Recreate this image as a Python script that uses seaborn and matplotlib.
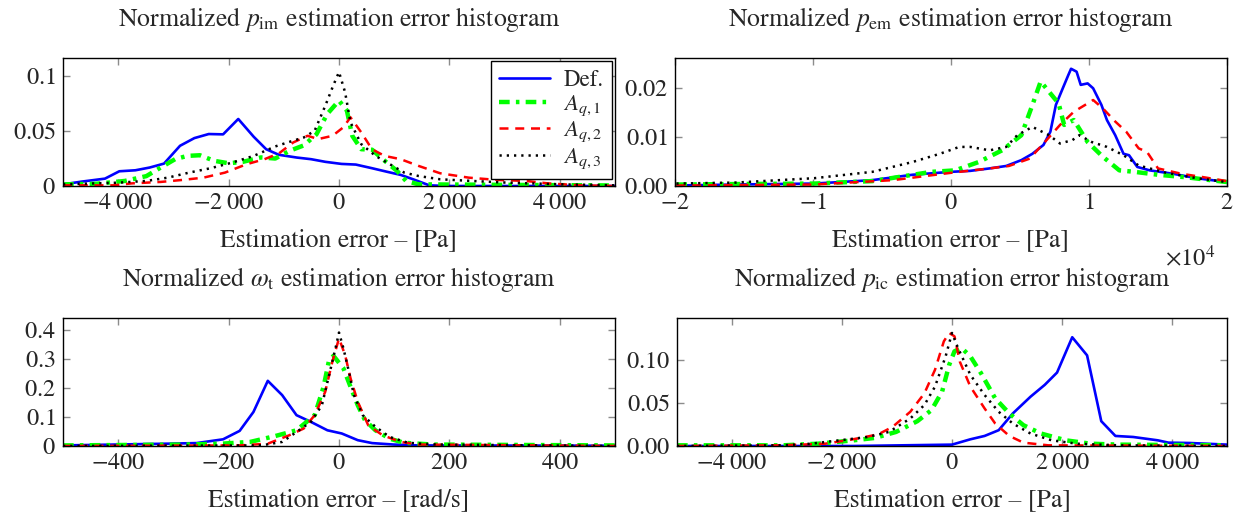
import matplotlib
matplotlib.use("Agg")
import matplotlib.pyplot as plt
import matplotlib.ticker as mticker
import seaborn as sns

# ---------------------------------------------------------
# Data (x in Pa or rad/s, y normalized counts)
# ---------------------------------------------------------
# p_im
im_def_x = [-5000, -4660, -4240, -3980, -3690, -3430, -3170, -2880, -2620, -2360, -2100, -1825,
            -1545, -1320, -1090, -766, -506, -247, 45, 305, 597, 857, 1117, 1344, 1636, 1960, 5000]
im_def_y = [0.0015, 0.004, 0.0067, 0.0134, 0.0143, 0.0168, 0.0204, 0.0366, 0.0436, 0.0473, 0.047, 0.061,
            0.0448, 0.0335, 0.0284, 0.0259, 0.0244, 0.022, 0.0201, 0.0195, 0.0162, 0.0131, 0.0101, 0.0061,
            0.0006, 0.0, 0.0]
im_a1_x = [-5000, -4400, -3880, -3490, -3230, -2970, -2750, -2520, -2260, -2000, -1740, -1415, -1155,
           -896, -636, -409, -214, 0, 143, 240, 403, 600, 792, 1052, 1214, 1441, 5000]
im_a1_y = [0.0015, 0.002, 0.0046, 0.009, 0.0168, 0.0244, 0.0274, 0.028, 0.0229, 0.0207, 0.022, 0.026, 0.025,
           0.032, 0.037, 0.047, 0.0655, 0.0777, 0.0686, 0.0457, 0.0335, 0.033, 0.0244, 0.0137, 0.0046,
           0.0015, 0.0005]
im_a2_x = [-5000, -4080, -3750, -3230, -2840, -2455, -2065, -1675, -1350, -1090, -830, -570, -377, -117,
           78, 208, 403, 597, 825, 1117, 1441, 1831, 2350, 2870, 3390, 3779, 4364, 5000]
im_a2_y = [0.0006, 0.0006, 0.0024, 0.0037, 0.0055, 0.0076, 0.0122, 0.0198, 0.0244, 0.0296, 0.0396, 0.0457,
           0.0427, 0.0457, 0.0534, 0.0625, 0.0488, 0.0335, 0.0274, 0.0244, 0.0183, 0.0116, 0.0076, 0.0055,
           0.0046, 0.0024, 0.0006, 0.0]
im_a3_x = [-5000, -4010, -3490, -3100, -2715, -2325, -1935, -1545, -1155, -896, -636, -441, -247, -104, 0,
           110, 208, 403, 662, 922, 1182, 1441, 1831, 2415, 3065, 4040, 5000]
im_a3_y = [0.0015, 0.003, 0.0046, 0.0076, 0.0122, 0.0162, 0.0213, 0.0274, 0.036, 0.0402, 0.0442, 0.0503,
           0.0732, 0.0915, 0.1037, 0.0854, 0.0579, 0.0381, 0.0274, 0.0198, 0.0122, 0.0091, 0.0061, 0.0046,
           0.003, 0.0015, 0.0006]

# p_em (x in Pa, axis shown in units of 1e4)
em_def_x = [-19900, -15600, -9900, -5700, -2800, 0, 1400, 2800, 4000, 5100, 5900, 6700, 7200, 7600, 8100,
            8500, 8700, 9100, 9400, 9900, 10300, 10900, 11300, 11900, 12500, 12900, 13500, 14400, 16100,
            17800, 20000]
em_def_y = [0.0001, 0.0003, 0.0005, 0.0012, 0.0023, 0.0029, 0.0031, 0.0036, 0.0041, 0.0053, 0.0066, 0.0084,
            0.0111, 0.0166, 0.020, 0.0227, 0.024, 0.0234, 0.0207, 0.021, 0.020, 0.0166, 0.0135, 0.0104,
            0.0066, 0.0063, 0.0039, 0.0032, 0.0025, 0.0016, 0.0008]
em_a1_x = [-19900, -15600, -9900, -5700, -1400, 300, 2000, 3700, 5100, 5900, 6500, 7100, 7800, 8200, 8900,
           9900, 11000, 12200, 13300, 15000, 17000, 20000]
em_a1_y = [0.0003, 0.0004, 0.0005, 0.001, 0.0029, 0.0032, 0.0049, 0.0073, 0.0104, 0.0166, 0.0214, 0.0193,
           0.0169, 0.0125, 0.0135, 0.009, 0.006, 0.0032, 0.0029, 0.0023, 0.0018, 0.0008]
em_a2_x = [-19900, -9900, -4200, 0, 2800, 4200, 5700, 6800, 7900, 8900, 9900, 10300, 11000, 11900, 12700,
           13600, 14200, 15000, 16700, 18300, 20000]
em_a2_y = [0.0001, 0.0003, 0.0012, 0.0027, 0.0036, 0.0041, 0.0056, 0.009, 0.0125, 0.0152, 0.0169, 0.0176,
           0.0159, 0.0132, 0.0111, 0.0077, 0.007, 0.0036, 0.0025, 0.0018, 0.001]
em_a3_x = [-19900, -15600, -9900, -5700, -2800, -800, 600, 1400, 2800, 4000, 4800, 5900, 7100, 7900, 8800,
           9300, 10200, 11300, 12500, 13600, 15600, 17800, 20000]
em_a3_y = [0.0005, 0.0007, 0.0016, 0.0029, 0.0049, 0.0066, 0.008, 0.008, 0.0073, 0.008, 0.0104, 0.0121,
           0.0104, 0.0087, 0.0094, 0.0104, 0.009, 0.008, 0.0063, 0.0042, 0.0027, 0.0016, 0.0008]

# omega_t (rad/s)
wt_def_x = [-500, -310, -258, -210, -180, -155, -129, -103, -77, -51, -21, 5, 34, 60, 99, 144, 500]
wt_def_y = [0.002, 0.008, 0.01, 0.023, 0.052, 0.117, 0.224, 0.175, 0.106, 0.083, 0.054, 0.043, 0.02, 0.01,
            0.005, 0.002, 0.001]
wt_a1_x = [-500, -278, -213, -161, -116, -77, -44, -28, -18, -10, 8, 21, 34, 47, 66, 92, 118, 170, 500]
wt_a1_y = [0.002, 0.005, 0.008, 0.014, 0.034, 0.054, 0.106, 0.203, 0.295, 0.31, 0.267, 0.203, 0.14, 0.089,
           0.054, 0.025, 0.011, 0.005, 0.002]
wt_a2_x = [-500, -180, -129, -90, -64, -44, -25, -12, 0, 11, 21, 34, 53, 79, 112, 144, 500]
wt_a2_y = [0.0, 0.002, 0.008, 0.037, 0.06, 0.106, 0.186, 0.29, 0.37, 0.313, 0.232, 0.152, 0.071, 0.037,
           0.014, 0.005, 0.0]
wt_a3_x = [-500, -141, -103, -77, -51, -31, -15, -5, 0, 8, 18, 27, 43, 66, 92, 125, 177, 500]
wt_a3_y = [0.0, 0.002, 0.014, 0.048, 0.083, 0.14, 0.267, 0.347, 0.39, 0.336, 0.255, 0.175, 0.106, 0.066,
           0.031, 0.011, 0.005, 0.0]

# p_ic
ic_def_x = [-5000, -1790, 0, 334, 592, 849, 1106, 1428, 1685, 1910, 2186, 2456, 2585, 2714, 2971, 3293,
            3743, 3936, 4322, 5000]
ic_def_y = [0.0, 0.0, 0.0016, 0.0078, 0.0117, 0.0184, 0.0379, 0.0574, 0.0711, 0.0855, 0.1266, 0.1055,
            0.0672, 0.0289, 0.0117, 0.0105, 0.0066, 0.0039, 0.0035, 0.0016]
ic_a1_x = [-5000, -3074, -2431, -1788, -1402, -1016, -630, -373, -180, -51, 45, 174, 334, 527, 785, 1042,
           1299, 1620, 2071, 2521, 3035, 5000]
ic_a1_y = [0.0008, 0.0008, 0.0027, 0.0066, 0.0094, 0.0164, 0.0289, 0.0418, 0.0633, 0.0945, 0.1102, 0.1141,
           0.1043, 0.0848, 0.0555, 0.0379, 0.0242, 0.0145, 0.0066, 0.0027, 0.0016, 0.0008]
ic_a2_x = [-5000, -3074, -2302, -1916, -1659, -1338, -1080, -759, -502, -309, -148, -51, 45, 141, 334, 592,
           785, 1042, 1299, 1749, 5000]
ic_a2_y = [0.0, 0.0008, 0.0027, 0.0066, 0.0094, 0.0137, 0.0223, 0.0398, 0.0613, 0.0887, 0.1219, 0.1316,
           0.1277, 0.0984, 0.0691, 0.0438, 0.0262, 0.0117, 0.0039, 0.0008, 0.0]
ic_a3_x = [-5000, -3074, -2559, -2045, -1530, -1145, -759, -502, -309, -116, 0, 109, 334, 592, 849, 1106,
           1428, 1813, 2264, 3035, 5000]
ic_a3_y = [0.0, 0.0008, 0.0027, 0.0066, 0.0105, 0.0164, 0.032, 0.0477, 0.0691, 0.1043, 0.1316, 0.1141,
           0.0828, 0.0594, 0.0398, 0.0262, 0.0145, 0.0066, 0.0027, 0.0008, 0.0]

labels = ["Def.", r"$A_{q,1}$", r"$A_{q,2}$", r"$A_{q,3}$"]

# ---------------------------------------------------------
# Style
# ---------------------------------------------------------
sns.set_theme(style="white")
plt.rcParams["font.family"] = ["STIXGeneral", "DejaVu Serif"]
plt.rcParams["mathtext.fontset"] = "stix"
plt.rcParams["axes.edgecolor"] = "black"
plt.rcParams["axes.linewidth"] = 1.0

FS = 18.5
styles = [
    dict(color="#0000ff", lw=1.9, linestyle="-"),
    dict(color="#00ff00", lw=3.2, linestyle=(0, (2.4, 1.4, 0.8, 1.4))),
    dict(color="#ff0000", lw=1.8, linestyle=(0, (3.6, 2.7))),
    dict(color="black", lw=1.8, linestyle=(0, (0.9, 2.0))),
]


def thousands(v, pos):
    s = f"{abs(int(round(v))):,}".replace(",", r"\;")
    return f"${'-' if v < 0 else ''}{s}$"


def draw(ax, series, title, xlabel, xlim, ylim, xticks, yticks, xfmt, yfmt):
    for (x, y), st, lab in zip(series, styles, labels):
        sns.lineplot(x=x, y=y, ax=ax, estimator=None, sort=False, label=lab, **st)
    ax.set_xlim(*xlim)
    ax.set_ylim(*ylim)
    ax.set_xticks(xticks)
    ax.set_yticks(yticks)
    ax.xaxis.set_major_formatter(mticker.FuncFormatter(xfmt))
    ax.yaxis.set_major_formatter(mticker.FuncFormatter(yfmt))
    ax.tick_params(direction="in", length=5, width=1, color="#8c8c8c", labelsize=FS - 1,
                   top=True, right=True, bottom=True, left=True, pad=5)
    ax.set_title(title, fontsize=FS, pad=23)
    ax.set_xlabel(xlabel, fontsize=FS, labelpad=10)
    ax.set_ylabel("")
    for sp in ax.spines.values():
        sp.set_color("black")
        sp.set_visible(True)


fig = plt.figure(figsize=(12.39, 5.15), dpi=100)
W, H = 1239, 515
ax1 = fig.add_axes([63 / W, 1 - 186 / H, 552 / W, 128 / H])
ax2 = fig.add_axes([675 / W, 1 - 186 / H, 552 / W, 128 / H])
ax3 = fig.add_axes([63 / W, 1 - 446 / H, 552 / W, 128 / H])
ax4 = fig.add_axes([677 / W, 1 - 446 / H, 550 / W, 128 / H])

draw(ax1, [(im_def_x, im_def_y), (im_a1_x, im_a1_y), (im_a2_x, im_a2_y), (im_a3_x, im_a3_y)],
     r"Normalized $p_{\mathrm{im}}$ estimation error histogram", "Estimation error – [Pa]",
     (-5000, 5000), (0, 0.1165), [-4000, -2000, 0, 2000, 4000], [0, 0.05, 0.1],
     thousands, lambda v, p: f"${v:g}$")

draw(ax2, [(em_def_x, em_def_y), (em_a1_x, em_a1_y), (em_a2_x, em_a2_y), (em_a3_x, em_a3_y)],
     r"Normalized $p_{\mathrm{em}}$ estimation error histogram", "Estimation error – [Pa]",
     (-20000, 20000), (0, 0.0262), [-20000, -10000, 0, 10000, 20000], [0, 0.01, 0.02],
     lambda v, p: f"${int(round(v / 1e4))}$", lambda v, p: f"${v:.2f}$")
ax2.text(0.933, -0.56, r"$\times 10^{4}$", transform=ax2.transAxes, ha="center", va="center",
         fontsize=FS - 1)

draw(ax3, [(wt_def_x, wt_def_y), (wt_a1_x, wt_a1_y), (wt_a2_x, wt_a2_y), (wt_a3_x, wt_a3_y)],
     r"Normalized $\omega_{\mathrm{t}}$ estimation error histogram", "Estimation error – [rad/s]",
     (-500, 500), (0, 0.44), [-400, -200, 0, 200, 400], [0, 0.1, 0.2, 0.3, 0.4],
     lambda v, p: f"${int(round(v))}$", lambda v, p: f"${v:g}$")

draw(ax4, [(ic_def_x, ic_def_y), (ic_a1_x, ic_a1_y), (ic_a2_x, ic_a2_y), (ic_a3_x, ic_a3_y)],
     r"Normalized $p_{\mathrm{ic}}$ estimation error histogram", "Estimation error – [Pa]",
     (-5000, 5000), (0, 0.149), [-4000, -2000, 0, 2000, 4000], [0, 0.05, 0.10],
     thousands, lambda v, p: f"${v:.2f}$")

for ax in (ax2, ax3, ax4):
    ax.get_legend().remove()

leg = ax1.legend(loc="upper right", fontsize=16.5, frameon=True, fancybox=False,
                 edgecolor="black", framealpha=1, handlelength=2.2, labelspacing=0.1,
                 borderaxespad=0.15, borderpad=0.35, handletextpad=0.6)
leg.get_frame().set_linewidth(1.0)

fig.savefig("out.png", dpi=100)
